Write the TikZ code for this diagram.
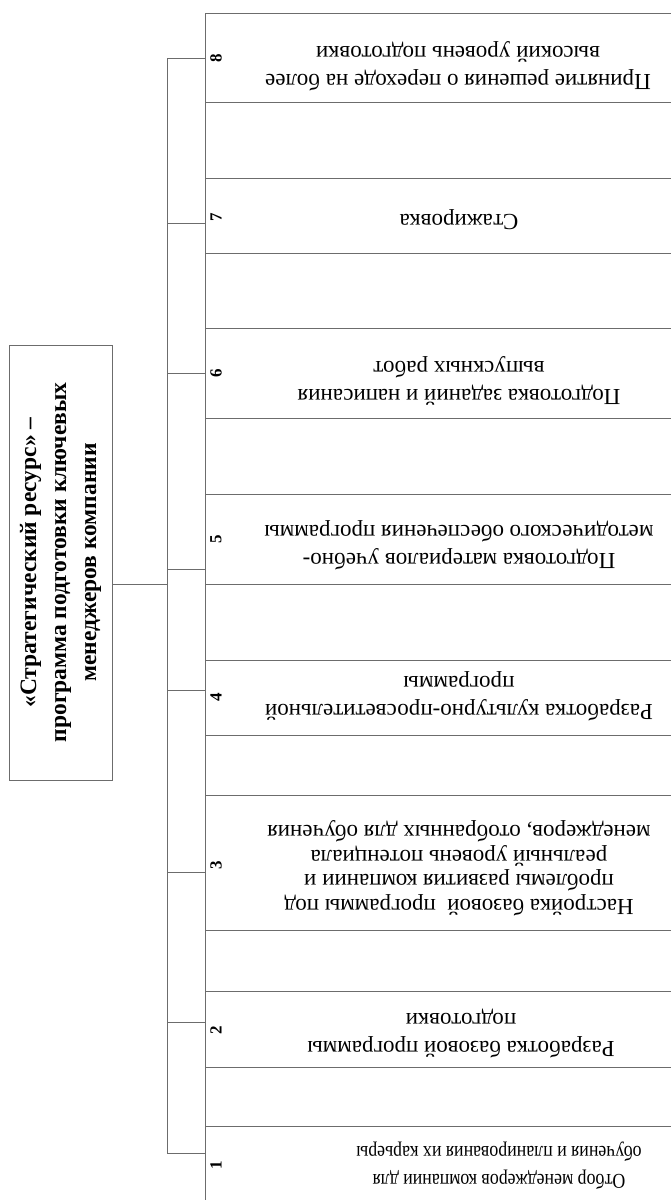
\documentclass[tikz,border=0pt]{standalone}
\usepackage{fontspec}
\setmainfont{Liberation Serif}
\begin{document}
\begin{tikzpicture}[x=1pt,y=-1pt,line width=1pt]
  \tikzstyle{cell}=[draw=gray!85!black,minimum width=520,anchor=north west,inner sep=0]
  \tikzstyle{txt}=[rotate=180,align=center]
  \tikzstyle{num}=[rotate=90,font=\bfseries\fontsize{17}{17}\selectfont]
  \tikzstyle{wire}=[draw=gray!85!black]

  \clip (0,0) rectangle (671,1200);
  \fill[white] (0,0) rectangle (671,1200);

  % main box
  \node[draw=gray!85!black,minimum width=103,minimum height=435,inner sep=0] (res) at (60.5,562.5) {};
  \node[rotate=90,align=center,font=\bfseries\fontsize{23.5}{30}\selectfont] (restitle) at (res.center)
    {«Стратегический ресурс» –\\программа подготовки ключевых\\менеджеров компании};

  % empty cells between the steps
  \foreach \t/\b [count=\i] in {102/178,253/328,418/494,584/660,735/795,930/991,1067/1126}
    \node[cell,minimum height=\b-\t] (g\i) at (205,\t) {};

  % steps: number / top / bottom / tick / number y / text x / text y / font size / squeeze / text
  \foreach \n/\t/\b/\k/\m/\x/\y/\f/\w/\s in {
      8/13/102/58/58/458/66/23/1/{Принятие решения о переходе на более\\высокий уровень подготовки},
      7/178/253/223/217/459/220/23/1/{Стажировка},
      6/328/418/373/373/459/381/23/1/{Подготовка заданий и написания\\выпускных работ},
      5/494/584/569/539/459/545/23/1/{Подготовка материалов учебно-\\методического обеспечения программы},
      4/660/735/690/697/459/696/23/1/{Разработка культурно-просветительной\\программы},
      3/795/930/872/865/459/868/23/1/{Настройка базовой~ программы под\\[-3.5pt]проблемы развития компании и\\[-3.5pt]реальный уровень потенциала\\[-3.5pt]менеджеров, отобранных для обучения},
      2/991/1067/1022/1030/461/1033/23/1/{Разработка базовой программы\\подготовки},
      1/1126/1215/1153/1165/499/1166/21/0.85/{Отбор менеджеров компании для\\обучения и планирования их карьеры}}{
    \node[cell,minimum height=\b-\t] (s\n) at (205,\t) {};
    \node[num] (n\n) at (216,\m) {\n};
    \node[txt,xscale=\w,font=\fontsize{\f}{28}\selectfont] (x\n) at (\x,\y) {\s};
    \coordinate (t\n) at (167,\k);
    \draw[wire] (t\n) -- (s\n.west |- t\n);
  }

  \coordinate (hub) at (167,584);
  \draw[wire] (t8) -- (t1);
  \draw[wire] (res.east |- hub) -- (hub);
\end{tikzpicture}
\end{document}
